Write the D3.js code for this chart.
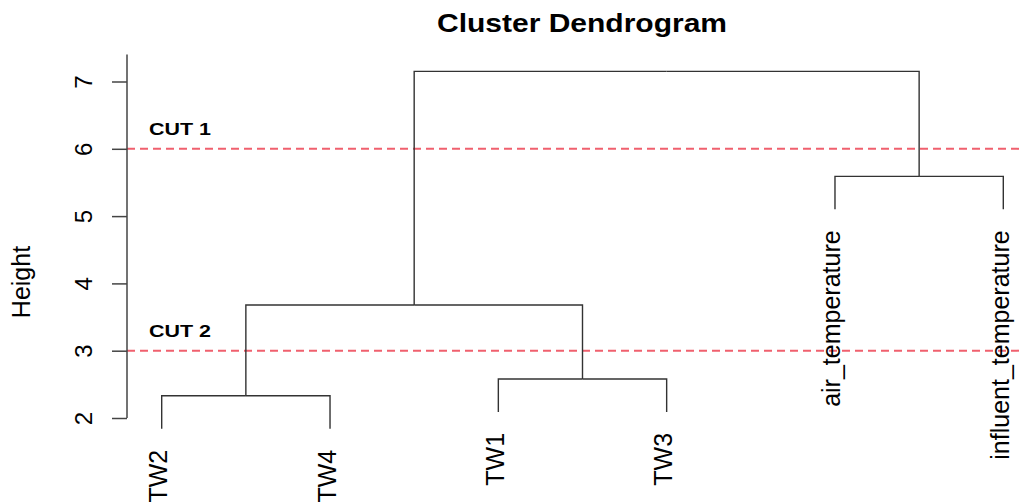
<!DOCTYPE html>
<html>
<head>
<meta charset="utf-8">
<script src="https://cdn.jsdelivr.net/npm/d3@7"></script>
<style>
  body { margin: 0; background: #fff; }
  text { font-family: "Liberation Sans", Arial, Helvetica, sans-serif; fill: #000; }
</style>
</head>
<body>
<div class="canvas"></div>
<script>
// leaves in plotting order, and the merges (R hclust style: negative = leaf, positive = earlier merge)
const leafLabels = ['TW2', 'TW4', 'TW1', 'TW3', 'air_temperature', 'influent_temperature']
const mergeLeft = [-1, -3, 1, -5, 3]
const mergeRight = [-2, -4, 2, -6, 4]
const mergeHeight = [2.33, 2.58, 3.68, 5.59, 7.15]
const hang = 0.49

const yTicks = [2, 3, 4, 5, 6, 7]
const cutHeights = [6, 3]
const cutLabels = ['CUT 1', 'CUT 2']

const width = 1023, height = 504
const svg = d3.select('.canvas').append('svg').attr('width', width).attr('height', height)

const y = d3.scaleLinear()
    .domain([2, 7])
    .range([418, 81.5])

const x = d3.scalePoint()
    .domain(leafLabels)
    .range([161.7, 1003.3])

// build the tree from the merge arrays
const merges = []
const nodeOf = i => i < 0 ? {name: leafLabels[-i - 1], h: null} : merges[i - 1]
mergeLeft.forEach((a, i) => {
    merges.push({name: 'm' + (i + 1), h: mergeHeight[i], children: [nodeOf(a), nodeOf(mergeRight[i])]})
})
const root = d3.hierarchy(merges[merges.length - 1])

// leaves from the point scale, parents in the middle of their children
root.eachAfter(d => {
    d.px = d.children ? d3.mean(d.children, c => c.px) : x(d.data.name)
})

const xPos = d => d.px
const yPos = d => d.data.h !== null ? y(d.data.h) : y(d.parent.data.h - hang)

const graph = svg.append('g')

// red cut lines
graph.selectAll('line.cut')
    .data(cutHeights)
    .enter().append('line')
        .attr('class', 'cut')
        .attr('x1', 127).attr('x2', width)
        .attr('y1', d => y(d)).attr('y2', d => y(d))
        .attr('stroke', '#f0606e')
        .attr('stroke-width', 2)
        .attr('stroke-dasharray', '8,5')

graph.selectAll('text.cut')
    .data(cutHeights)
    .enter().append('text')
        .attr('class', 'cut')
        .attr('x', 149)
        .attr('y', d => y(d) - 14)
        .attr('font-size', 16)
        .attr('font-weight', 'bold')
        .attr('textLength', 62)
        .attr('lengthAdjust', 'spacingAndGlyphs')
        .text((d, i) => cutLabels[i])

// dendrogram elbows
graph.selectAll('path.link')
    .data(root.links())
    .enter().append('path')
        .attr('class', 'link')
        .attr('fill', 'none')
        .attr('stroke', '#333')
        .attr('stroke-width', 1.4)
        .attr('d', l => `M${xPos(l.source)},${yPos(l.source)}H${xPos(l.target)}V${yPos(l.target)}`)

// leaf labels
graph.selectAll('text.leaf')
    .data(root.leaves())
    .enter().append('text')
        .attr('class', 'leaf')
        .attr('font-size', 25)
        .attr('text-anchor', 'end')
        .attr('transform', d => `translate(${xPos(d) + 5.5}, ${yPos(d) + 21}) rotate(-90)`)
        .text(d => d.data.name)

// y axis
const yAxisGraph = graph.append('g').attr('transform', 'translate(127, 0)')
const yAxis = d3.axisLeft(y).tickValues(yTicks).tickSize(15).tickSizeOuter(0).tickFormat(d3.format('d'))
yAxisGraph.call(yAxis)
yAxisGraph.select('.domain').remove()
yAxisGraph.append('line')
    .attr('y1', y(2)).attr('y2', y(7.4))
    .attr('stroke', '#444').attr('stroke-width', 1.5)
yAxisGraph.selectAll('.tick line').attr('stroke', '#444').attr('stroke-width', 1.5)
yAxisGraph.selectAll('.tick text')
    .attr('x', null).attr('dy', null)
    .attr('font-size', 24)
    .attr('fill', '#000')
    .attr('text-anchor', 'middle')
    .attr('transform', 'translate(-35, 0) rotate(-90)')
    .style('font-family', '"Liberation Sans", Arial, sans-serif')

// axis title
svg.append('text')
    .attr('font-size', 25)
    .attr('text-anchor', 'middle')
    .attr('transform', `translate(30, ${(y(4) + y(3)) / 2 - 35}) rotate(-90)`)
    .text('Height')

// chart title
svg.append('text')
    .attr('x', 582).attr('y', 32)
    .attr('text-anchor', 'middle')
    .attr('font-size', 25)
    .attr('font-weight', 'bold')
    .attr('textLength', 290)
    .attr('lengthAdjust', 'spacingAndGlyphs')
    .text('Cluster Dendrogram')
</script>
</body>
</html>
